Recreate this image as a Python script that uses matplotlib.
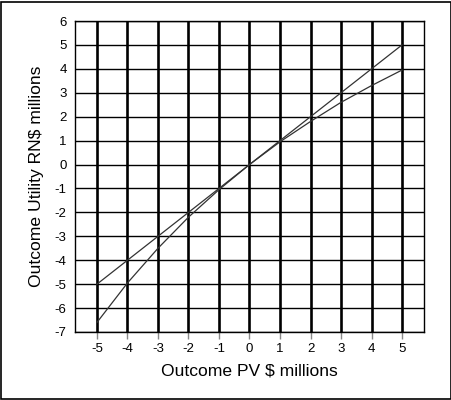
import matplotlib
matplotlib.use("Agg")
import matplotlib.pyplot as plt
from matplotlib.patches import Rectangle

plt.rcParams['font.family'] = ['Liberation Sans', 'DejaVu Sans']

outcome_pv = [-5, -4, -3, -2, -1, 0, 1, 2, 3, 4, 5]
risk_neutral = [-5, -4, -3, -2, -1, 0, 1, 2, 3, 4, 5]
utility = [-6.6, -4.95, -3.5, -2.2, -1.05, 0, 0.95, 1.8, 2.6, 3.3, 3.95]
x_ticks = [-5, -4, -3, -2, -1, 0, 1, 2, 3, 4, 5]
y_ticks = [-7, -6, -5, -4, -3, -2, -1, 0, 1, 2, 3, 4, 5, 6]

fig = plt.figure(figsize=(4.52, 4.0), dpi=100)
ax = fig.add_axes([75/452, 68/400, 349/452, 311/400])

ax.set_xlim(-5.72, 5.72)
ax.set_ylim(-7, 6)

for v in x_ticks:
    ax.axvline(v, color='black', lw=1.9, zorder=1)
for v in y_ticks:
    ax.axhline(v, color='black', lw=1.0, zorder=1)

ax.plot(outcome_pv, risk_neutral, color='#333333', lw=0.9, zorder=3)
ax.plot(outcome_pv, utility, color='#333333', lw=0.9, zorder=3)

ax.set_xticks(x_ticks)
ax.set_xticklabels([str(v) for v in x_ticks])
ax.set_yticks(y_ticks)
ax.set_yticklabels([str(v) for v in y_ticks])
ax.tick_params(axis='x', length=5, width=1, color='#888888', labelsize=9.5, pad=3)
ax.tick_params(axis='y', length=0, labelsize=9.5, pad=6)

for s in ax.spines.values():
    s.set_linewidth(1.0)
    s.set_color('black')

ax.set_xlabel('Outcome PV $ millions', fontsize=12.6, labelpad=6)
ax.set_ylabel('Outcome Utility RN$ millions', fontsize=12.6, labelpad=8)

fig.patches.append(Rectangle((0.5/452, 1.5/400), 450.5/452, 397/400, transform=fig.transFigure,
                             fill=False, edgecolor='black', lw=1.2))

fig.savefig('out.png', dpi=100)
